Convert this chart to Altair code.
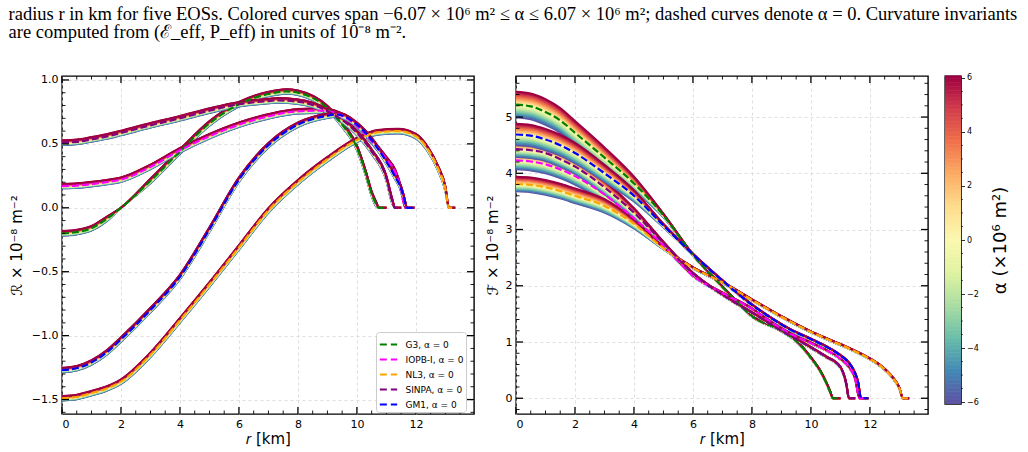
import altair as alt
import numpy as np
import pandas as pd

# ---------------------------------------------------------------------------
# Radial profiles of the curvature invariants (units of 1e-8 m^-2) for five EOSs
#   R_* : Ricci-type invariant at alpha = 0
#   F_* : full-contraction invariant at alpha = 0
#   dF_*: shift of F between alpha = 0 and alpha = +6.07e6 m^2
# ---------------------------------------------------------------------------
EOS_NAMES = ["G3", "IOPB-I", "NL3", "SINPA", "GM1"]
EOS_COLORS = ["#008000", "#ff00ff", "#ffa500", "#800080", "#0000ff"]
ALPHA_MAX = 6.07     # 1e6 m^2
R_SHIFT = 0.018      # shift of R between alpha = 0 and alpha = +6.07e6 m^2

r_G3 = [0, 0.5, 1, 1.5, 2, 3, 4, 5, 6, 7, 7.6, 8, 9, 9.5, 10, 10.3, 10.5, 10.65, 10.75, 11.0]
R_G3 = [-0.20, -0.19, -0.16, -0.09, 0.00, 0.21, 0.44, 0.66, 0.81, 0.89, 0.91, 0.90, 0.78, 0.65, 0.47, 0.27, 0.11, 0.03, 0.0, 0.0]
F_G3 = [5.22, 5.19, 5.09, 4.94, 4.72, 4.28, 3.82, 3.25, 2.55, 1.98, 1.66, 1.46, 1.20, 1.02, 0.72, 0.50, 0.30, 0.12, 0.0, 0.0]
dF_G3 = [0.23, 0.23, 0.23, 0.22, 0.21, 0.18, 0.12, 0.03, 0.01, 0.01, 0.01, 0.01, 0.01, 0.01, 0.01, 0.01, 0.01, 0.01, 0.0, 0.0]

r_IOPB = [0, 0.5, 1, 1.5, 2, 3, 4, 5, 6, 7, 8, 8.8, 9.4, 10, 10.5, 11, 11.3, 11.5, 11.65, 11.8]
R_IOPB = [0.17, 0.174, 0.185, 0.20, 0.22, 0.32, 0.45, 0.56, 0.65, 0.715, 0.755, 0.76, 0.73, 0.64, 0.52, 0.38, 0.28, 0.14, 0.0, 0.0]
F_IOPB = [4.23, 4.21, 4.16, 4.07, 3.95, 3.62, 3.20, 2.72, 2.18, 1.87, 1.59, 1.30, 1.12, 0.98, 0.86, 0.70, 0.55, 0.35, 0.0, 0.0]
dF_IOPB = [0.16, 0.16, 0.16, 0.155, 0.15, 0.13, 0.09, 0.02, 0.01, 0.01, 0.01, 0.01, 0.01, 0.01, 0.01, 0.01, 0.01, 0.01, 0.0, 0.0]

r_NL3 = [0, 0.5, 1, 1.5, 2, 3, 4, 5, 6, 7, 8, 9, 10, 10.7, 11.4, 12, 12.4, 12.75, 13.0, 13.12, 13.33]
R_NL3 = [-1.49, -1.48, -1.45, -1.415, -1.36, -1.15, -0.88, -0.60, -0.31, -0.02, 0.20, 0.38, 0.53, 0.59, 0.60, 0.56, 0.46, 0.31, 0.15, 0.0, 0.0]
F_NL3 = [3.81, 3.795, 3.75, 3.685, 3.60, 3.42, 3.10, 2.67, 2.32, 2.06, 1.75, 1.45, 1.18, 1.02, 0.86, 0.70, 0.56, 0.38, 0.18, 0.0, 0.0]
dF_NL3 = [0.13, 0.13, 0.13, 0.13, 0.13, 0.12, 0.08, 0.02, 0.01, 0.01, 0.01, 0.01, 0.01, 0.01, 0.01, 0.01, 0.01, 0.01, 0.01, 0.0, 0.0]

r_SINPA = [0, 0.5, 1, 1.5, 2, 3, 4, 5, 6, 7, 7.3, 8, 9, 10, 10.5, 11, 11.2, 11.29, 11.5]
R_SINPA = [0.51, 0.516, 0.535, 0.557, 0.585, 0.645, 0.70, 0.76, 0.81, 0.835, 0.84, 0.83, 0.756, 0.585, 0.44, 0.23, 0.05, 0.0, 0.0]
F_SINPA = [4.43, 4.41, 4.36, 4.25, 4.12, 3.75, 3.30, 2.76, 2.22, 1.84, 1.74, 1.52, 1.20, 0.90, 0.74, 0.55, 0.25, 0.0, 0.0]
dF_SINPA = [0.14, 0.14, 0.14, 0.135, 0.13, 0.12, 0.08, 0.02, 0.01, 0.01, 0.01, 0.01, 0.01, 0.01, 0.01, 0.01, 0.01, 0.0, 0.0]

r_GM1 = [0, 0.5, 1, 1.5, 2, 3, 4, 5, 6, 7, 8, 9, 9.3, 10, 10.5, 11, 11.3, 11.5, 11.6, 11.7, 11.95]
R_GM1 = [-1.27, -1.255, -1.21, -1.135, -1.03, -0.80, -0.54, -0.17, 0.22, 0.49, 0.65, 0.72, 0.73, 0.65, 0.53, 0.36, 0.24, 0.15, 0.07, 0.0, 0.0]
F_GM1 = [4.69, 4.67, 4.60, 4.50, 4.36, 4.00, 3.60, 3.07, 2.56, 2.09, 1.66, 1.31, 1.22, 1.05, 0.92, 0.76, 0.62, 0.44, 0.28, 0.0, 0.0]
dF_GM1 = [0.19, 0.19, 0.19, 0.185, 0.18, 0.15, 0.10, 0.03, 0.01, 0.01, 0.01, 0.01, 0.01, 0.01, 0.01, 0.01, 0.01, 0.01, 0.01, 0.0, 0.0]

PROFILES = {
    "G3": (r_G3, R_G3, F_G3, dF_G3),
    "IOPB-I": (r_IOPB, R_IOPB, F_IOPB, dF_IOPB),
    "NL3": (r_NL3, R_NL3, F_NL3, dF_NL3),
    "SINPA": (r_SINPA, R_SINPA, F_SINPA, dF_SINPA),
    "GM1": (r_GM1, R_GM1, F_GM1, dF_GM1),
}

# alpha values of the coloured family, in 1e6 m^2 (ascending so the largest is drawn last)
ALPHAS = np.linspace(-ALPHA_MAX, ALPHA_MAX, 25)

# tick positions
X_MAJOR = [0, 2, 4, 6, 8, 10, 12]
X_MINOR = [v / 2 for v in range(0, 28) if v % 4 != 0]
YL_MAJOR = [-1.5, -1.0, -0.5, 0.0, 0.5, 1.0]
YL_MINOR = [round(-1.6 + 0.1 * i, 2) for i in range(27) if round((-1.6 + 0.1 * i) * 10) % 5 != 0]
YR_MAJOR = [0, 1, 2, 3, 4, 5]
YR_MINOR = [round(-0.2 + 0.2 * i, 2) for i in range(30) if round((-0.2 + 0.2 * i) * 10) % 10 != 0]
CB_MAJOR = [-6, -4, -2, 0, 2, 4, 6]
CB_MINOR = [-5.5, -5, -4.5, -3.5, -3, -2.5, -1.5, -1, -0.5, 0.5, 1, 1.5, 2.5, 3, 3.5, 4.5, 5, 5.5]

X_DOMAIN = [0, 13.97]
YL_DOMAIN = [-1.613, 1.031]
YR_DOMAIN = [-0.28, 5.73]

W, H = 412, 338

# ---------------------------------------------------------------------------
# tables
# ---------------------------------------------------------------------------
fam_R, fam_F, zero_R, zero_F = [], [], [], []
for name in EOS_NAMES:
    r, R0, F0, dF = PROFILES[name]
    R0 = np.array(R0)
    F0 = np.array(F0)
    dF = np.array(dF)
    dR = np.where(R0 != 0, R_SHIFT, 0.0)
    label = f"{name}, α = 0"
    for a in ALPHAS:
        key = f"{name}|{a:.3f}"
        s = a / ALPHA_MAX
        for ri, rv, fv, drv, dfv in zip(r, R0, F0, dR, dF):
            fam_R.append({"key": key, "alpha": a, "r": ri, "v": rv + s * drv})
            fam_F.append({"key": key, "alpha": a, "r": ri, "v": fv + s * dfv})
    for ri, rv, fv in zip(r, R0, F0):
        zero_R.append({"label": label, "r": ri, "v": rv})
        zero_F.append({"label": label, "r": ri, "v": fv})

fam_R = pd.DataFrame(fam_R)
fam_F = pd.DataFrame(fam_F)
zero_R = pd.DataFrame(zero_R)
zero_F = pd.DataFrame(zero_F)
LABELS = [f"{n}, α = 0" for n in EOS_NAMES]

alpha_scale = alt.Scale(scheme="spectral", reverse=True, domain=[-ALPHA_MAX, ALPHA_MAX])
x_scale = alt.Scale(domain=X_DOMAIN, nice=False, zero=False)

AXIS_STYLE = dict(ticks=False, domain=False, grid=True, gridDash=[3, 3],
                  gridColor="#d6d6d6", gridWidth=0.8, labelFontSize=11,
                  labelPadding=4, labelColor="black", titleColor="black",
                  labelFont="DejaVu Sans", titleFont="DejaVu Sans",
                  titleFontSize=15, titleFontWeight="normal")


def frame_ticks(y_scale, x_major, x_minor, y_major, y_minor):
    """Inward-pointing ticks on all four sides of a panel."""
    layers = []
    for vals, length, width in [(x_major, 7, 1.3), (x_minor, 3.5, 0.9)]:
        c = alt.Chart(pd.DataFrame({"r": vals})).mark_rule(color="black", strokeWidth=width)
        xs = alt.X("r:Q", scale=x_scale)
        layers.append(c.encode(x=xs, y=alt.value(0), y2=alt.value(length)))
        layers.append(c.encode(x=xs, y=alt.value(H), y2=alt.value(H - length)))
    for vals, length, width in [(y_major, 7, 1.3), (y_minor, 3.5, 0.9)]:
        c = alt.Chart(pd.DataFrame({"v": vals})).mark_rule(color="black", strokeWidth=width)
        ys = alt.Y("v:Q", scale=y_scale)
        layers.append(c.encode(y=ys, x=alt.value(0), x2=alt.value(length)))
        layers.append(c.encode(y=ys, x=alt.value(W), x2=alt.value(W - length)))
    return layers


def panel(fam, zero, y_domain, y_major, y_minor, y_title, y_fmt, y_title_pad, legend):
    y_scale = alt.Scale(domain=y_domain, nice=False, zero=False)
    x_axis = alt.Axis(title="𝑟 [km]", values=X_MAJOR, format="d", titlePadding=2, **AXIS_STYLE)
    y_axis = alt.Axis(title=y_title, values=y_major, format=y_fmt, titlePadding=y_title_pad, **AXIS_STYLE)
    family = alt.Chart(fam).mark_line(strokeWidth=2, interpolate="monotone", clip=True).encode(
        x=alt.X("r:Q", scale=x_scale, axis=x_axis),
        y=alt.Y("v:Q", scale=y_scale, axis=y_axis),
        color=alt.Color("alpha:Q", scale=alpha_scale, legend=None),
        detail="key:N",
    )
    dashed = alt.Chart(zero).mark_line(strokeWidth=2.2, strokeDash=[7, 3],
                                       interpolate="monotone", clip=True).encode(
        x=alt.X("r:Q", scale=x_scale),
        y=alt.Y("v:Q", scale=y_scale),
        stroke=alt.Stroke("label:N", scale=alt.Scale(domain=LABELS, range=EOS_COLORS),
                          sort=LABELS, legend=legend),
    )
    layers = [family, dashed] + frame_ticks(y_scale, X_MAJOR, X_MINOR, y_major, y_minor)
    return alt.layer(*layers).properties(width=W, height=H)


eos_legend = alt.Legend(
    title=None, orient="none", legendX=314, legendY=256,
    symbolType="stroke", symbolStrokeWidth=2, symbolDash=[7, 4], symbolSize=300,
    labelFontSize=9, labelFont="DejaVu Sans", labelColor="black", labelOffset=7,
    fillColor="white", strokeColor="#cccccc", padding=2.5, cornerRadius=3, rowPadding=0,
)

left = panel(fam_R, zero_R, YL_DOMAIN, YL_MAJOR, YL_MINOR, "ℛ × 10⁻⁸ m⁻²", ".1f", 7, eos_legend)
right = panel(fam_F, zero_F, YR_DOMAIN, YR_MAJOR, YR_MINOR, "ℱ × 10⁻⁸ m⁻²", "d", 5, None)

# colour bar for alpha
edges = np.linspace(-ALPHA_MAX, ALPHA_MAX, 244)
cb_df = pd.DataFrame({"lo": edges[:-1], "hi": edges[1:] + 0.02, "mid": (edges[:-1] + edges[1:]) / 2})
cb_scale = alt.Scale(domain=[-ALPHA_MAX, ALPHA_MAX], nice=False, zero=False)
CB_W, CB_H = 16, 328
cb_rect = alt.Chart(cb_df).mark_rect().encode(
    y=alt.Y("lo:Q", scale=cb_scale, axis=alt.Axis(
        orient="right", values=CB_MAJOR, format="d", title="α (×10⁶ m²)",
        tickSize=3.5, tickColor="black", tickWidth=0.8, domain=False, grid=False,
        labelFontSize=8, labelFont="DejaVu Sans", labelColor="black", labelPadding=2,
        titleFontSize=18, titleFont="DejaVu Sans", titleFontWeight="normal", titleColor="black",
        titleAngle=270, titleBaseline="bottom", titlePadding=31)),
    y2="hi:Q",
    x=alt.value(0), x2=alt.value(CB_W),
    color=alt.Color("mid:Q", scale=alpha_scale, legend=None),
)
cb_minor = alt.Chart(pd.DataFrame({"lo": CB_MINOR})).mark_rule(color="black", strokeWidth=0.6).encode(
    y=alt.Y("lo:Q", scale=cb_scale), x=alt.value(CB_W), x2=alt.value(CB_W + 2))
colorbar = alt.layer(cb_rect, cb_minor).properties(width=CB_W, height=CB_H)

panels = alt.hconcat(left, right, spacing=8).resolve_scale(stroke="independent").resolve_legend(stroke="independent")

caption = [
    "radius r in km for five EOSs. Colored curves span −6.07 × 10⁶ m² ≤ α ≤ 6.07 × 10⁶ m²; dashed curves denote α = 0. Curvature invariants",
    "are computed from (ℰ_eff, P_eff) in units of 10⁻⁸ m⁻².",
]

chart = alt.hconcat(panels, colorbar, spacing=14).properties(
    title=alt.Title(text=caption, anchor="start", font="Liberation Serif", fontSize=18.5,
                    fontWeight="normal", color="black", lineHeight=18, offset=32, dx=0),
    padding={"left": 8, "top": 4, "right": 2, "bottom": 2},
).configure_view(stroke="black", strokeWidth=1.4)

chart.save("out.html", embed_options={"renderer": "svg", "actions": False})
